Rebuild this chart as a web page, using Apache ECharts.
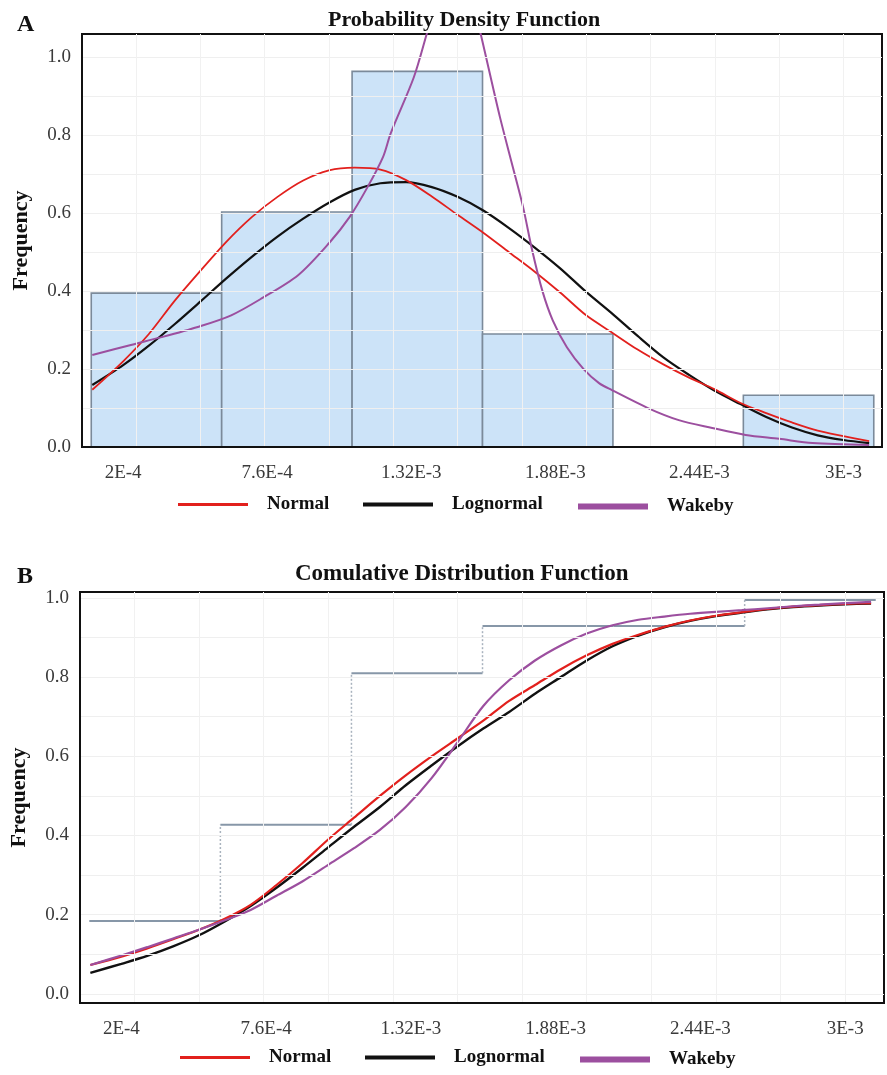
<!DOCTYPE html>
<html>
<head>
<meta charset="utf-8">
<title>PDF and CDF fits</title>
<script src="https://cdn.jsdelivr.net/npm/echarts@6/dist/echarts.min.js"></script>
<style>
  html, body { margin: 0; padding: 0; background: #ffffff; }
  #chart { width: 887px; height: 1075px; }
</style>
</head>
<body>
<div id="chart"></div>
<script>
// x values are stored in units of 1E-3
const X_TICKS = [0.2, 0.76, 1.32, 1.88, 2.44, 3.0];
const X_TICK_LABELS = ['2E-4', '7.6E-4', '1.32E-3', '1.88E-3', '2.44E-3', '3E-3'];
const Y_TICKS = [0, 0.2, 0.4, 0.6, 0.8, 1.0];
const Y_TICK_LABELS = ['0.0', '0.2', '0.4', '0.6', '0.8', '1.0'];
const Y_GRID = [0, 0.1, 0.2, 0.3, 0.4, 0.5, 0.6, 0.7, 0.8, 0.9, 1.0];

// histogram bins
const BIN_EDGES = [0.076, 0.583, 1.090, 1.597, 2.104, 2.611, 3.118];
const BIN_FREQ = [0.395, 0.603, 0.964, 0.29, 0, 0.133];
const CUM_FREQ = [0.184, 0.427, 0.81, 0.929, 0.929, 0.995];

// fitted densities
const PDF_X = [0.08, 0.2, 0.3, 0.4, 0.5, 0.6, 0.7, 0.8, 0.9, 1.0, 1.1, 1.2, 1.3, 1.4, 1.5, 1.6,
               1.7, 1.8, 1.9, 2.0, 2.1, 2.2, 2.3, 2.4, 2.5, 2.6, 2.7, 2.8, 2.9, 3.0, 3.1];
const NORMAL_PDF = [0.147, 0.22, 0.29, 0.375, 0.452, 0.526, 0.59, 0.642, 0.684, 0.71, 0.717, 0.712,
                    0.685, 0.643, 0.596, 0.55, 0.5, 0.45, 0.396, 0.338, 0.294, 0.25, 0.212, 0.178,
                    0.148, 0.113, 0.087, 0.063, 0.042, 0.028, 0.015];
const LOGNORMAL_PDF = [0.159, 0.21, 0.26, 0.315, 0.373, 0.432, 0.488, 0.54, 0.586, 0.627, 0.66, 0.677,
                       0.68, 0.667, 0.642, 0.607, 0.562, 0.512, 0.458, 0.398, 0.343, 0.285, 0.23, 0.185,
                       0.144, 0.11, 0.077, 0.05, 0.03, 0.018, 0.01];
const WAKEBY_PDF_X = [0.08, 0.23, 0.35, 0.49, 0.62, 0.74, 0.88, 1.0, 1.08, 1.15, 1.21, 1.24, 1.33, 1.38,
                      1.41, 1.45, 1.48, 1.52, 1.56, 1.59, 1.62, 1.665, 1.715, 1.755, 1.79, 1.83, 1.87,
                      1.925, 1.99, 2.05, 2.10, 2.24, 2.36, 2.49, 2.62, 2.75, 2.88, 3.10];
const WAKEBY_PDF = [0.236, 0.262, 0.282, 0.308, 0.338, 0.382, 0.441, 0.523, 0.59, 0.667, 0.744, 0.805,
                    0.949, 1.06, 1.13, 1.22, 1.28, 1.25, 1.14, 1.06, 0.974, 0.846, 0.718, 0.615, 0.505,
                    0.40, 0.325, 0.256, 0.2, 0.164, 0.146, 0.1, 0.069, 0.049, 0.031, 0.021, 0.01, 0.005];

// fitted cumulative distributions
const CDF_X = PDF_X;
const NORMAL_CDF = [0.073, 0.094, 0.115, 0.138, 0.162, 0.19, 0.225, 0.275, 0.33, 0.39, 0.445, 0.5,
                    0.552, 0.6, 0.645, 0.69, 0.74, 0.78, 0.82, 0.855, 0.884, 0.907, 0.927, 0.943,
                    0.955, 0.964, 0.972, 0.978, 0.982, 0.985, 0.987];
const LOGNORMAL_CDF = [0.053, 0.076, 0.096, 0.12, 0.148, 0.183, 0.222, 0.268, 0.318, 0.37, 0.422, 0.472,
                       0.527, 0.577, 0.625, 0.67, 0.712, 0.758, 0.8, 0.842, 0.878, 0.905, 0.926, 0.942,
                       0.954, 0.963, 0.971, 0.977, 0.981, 0.984, 0.986];
const WAKEBY_CDF = [0.073, 0.097, 0.118, 0.14, 0.162, 0.186, 0.212, 0.248, 0.284, 0.326, 0.368, 0.414,
                    0.472, 0.545, 0.635, 0.727, 0.792, 0.842, 0.88, 0.91, 0.931, 0.945, 0.953, 0.96,
                    0.965, 0.969, 0.974, 0.979, 0.983, 0.987, 0.99];

const COLORS = { Normal: '#e2201d', Lognormal: '#111111', Wakeby: '#9c4f9f' };

const SERIF = "'Liberation Serif', 'DejaVu Serif', serif";

const pairs = (xs, ys) => xs.map((x, i) => [x, ys[i]]);
const labelFor = (ticks, labels) => (v) => {
  let best = 0;
  ticks.forEach((t, i) => { if (Math.abs(t - v) < Math.abs(ticks[best] - v)) best = i; });
  return labels[best];
};

function xAxisCfg(gridIndex) {
  return {
    type: 'value', gridIndex, min: 0.04, max: 3.15, z: 10,
    axisLine: { show: true, onZero: false, lineStyle: { color: '#111', width: 2 } },
    axisTick: { show: false, customValues: [0.25, 0.5, 0.75, 1.0, 1.25, 1.5, 1.75, 2.0, 2.25, 2.5, 2.75, 3.0] },
    splitLine: { show: true, lineStyle: { color: '#f1f1f1', width: 1 } },
    axisLabel: {
      customValues: X_TICKS, margin: 17,
      formatter: labelFor(X_TICKS, X_TICK_LABELS),
      fontFamily: SERIF, fontSize: 19, color: '#3a3a3a'
    }
  };
}

function yAxisCfg(gridIndex, min, max) {
  return {
    type: 'value', gridIndex, min, max, z: 10,
    name: 'Frequency', nameLocation: 'middle', nameGap: 50, nameRotate: 90,
    nameTextStyle: { fontFamily: SERIF, fontWeight: 'bold', fontSize: 22, color: '#111' },
    axisLine: { show: true, onZero: false, lineStyle: { color: '#111', width: 2 } },
    axisTick: { show: false, customValues: Y_GRID },
    splitLine: { show: true, lineStyle: { color: '#efefef', width: 1 } },
    axisLabel: {
      customValues: Y_TICKS, margin: 11,
      formatter: labelFor(Y_TICKS, Y_TICK_LABELS),
      fontFamily: SERIF, fontSize: 19, color: '#3a3a3a'
    }
  };
}

// histogram bars: [left edge, right edge, frequency]
const histData = BIN_FREQ.map((f, i) => [BIN_EDGES[i], BIN_EDGES[i + 1], f]);
// empirical CDF steps: [left edge, right edge, level, previous level]
const stepData = CUM_FREQ.map((c, i) => [BIN_EDGES[i], BIN_EDGES[i + 1], c, i === 0 ? c : CUM_FREQ[i - 1]]);

function renderHist(params, api) {
  const h = api.value(2);
  if (!h) return { type: 'group', children: [] };
  const tl = api.coord([api.value(0), h]);
  const br = api.coord([api.value(1), 0]);
  return {
    type: 'rect',
    shape: { x: tl[0], y: tl[1], width: br[0] - tl[0], height: br[1] - tl[1] },
    style: { fill: '#cce3f8', stroke: '#7b8a9a', lineWidth: 1.6 }
  };
}

function renderStep(params, api) {
  const a = api.coord([api.value(0), api.value(2)]);
  const b = api.coord([api.value(1), api.value(2)]);
  const p = api.coord([api.value(0), api.value(3)]);
  const children = [{
    type: 'line',
    shape: { x1: a[0], y1: a[1], x2: b[0], y2: b[1] },
    style: { stroke: '#8797a8', lineWidth: 2 }
  }];
  if (Math.abs(p[1] - a[1]) > 0.5) {
    children.push({
      type: 'line',
      shape: { x1: p[0], y1: p[1], x2: a[0], y2: a[1] },
      style: { stroke: '#a9b3be', lineWidth: 1.5, lineDash: [2, 2] }
    });
  }
  return { type: 'group', children };
}

function curve(name, xs, ys, axisIndex, width) {
  return {
    name, type: 'line', xAxisIndex: axisIndex, yAxisIndex: axisIndex,
    data: pairs(xs, ys), showSymbol: false, smooth: 0.3, clip: true, z: 3,
    lineStyle: { color: COLORS[name], width },
    itemStyle: { color: COLORS[name] }
  };
}

const legendText = { fontFamily: SERIF, fontWeight: 'bold', fontSize: 19, color: '#111', padding: [0, 0, 0, 14] };
function legendItem(name, left, top, thickness) {
  return {
    data: [name], left, top, padding: 0, icon: 'rect',
    itemWidth: 70, itemHeight: thickness, textStyle: legendText, selectedMode: false
  };
}

const chart = echarts.init(document.getElementById('chart'), null, { renderer: 'canvas' });
chart.setOption({
  backgroundColor: '#ffffff',
  animation: false,
  title: [
    { text: 'A', left: 12, top: 8, textStyle: { fontFamily: SERIF, fontWeight: 'bold', fontSize: 24, color: '#111' } },
    { text: 'Probability Density Function', left: 323, top: 4, textStyle: { fontFamily: SERIF, fontWeight: 'bold', fontSize: 22, color: '#111' } },
    { text: 'B', left: 12, top: 560, textStyle: { fontFamily: SERIF, fontWeight: 'bold', fontSize: 24, color: '#111' } },
    { text: 'Comulative Distribution Function', left: 290, top: 558, textStyle: { fontFamily: SERIF, fontWeight: 'bold', fontSize: 23, color: '#111' } }
  ],
  legend: [
    legendItem('Normal', 178, 495, 3),
    legendItem('Lognormal', 363, 495, 4),
    legendItem('Wakeby', 578, 497, 6),
    legendItem('Normal', 180, 1048, 3),
    legendItem('Lognormal', 365, 1048, 4),
    legendItem('Wakeby', 580, 1050, 6)
  ],
  grid: [
    { left: 82, top: 34, width: 800, height: 413, show: true, borderColor: '#111', borderWidth: 2, backgroundColor: '#fff' },
    { left: 80, top: 592, width: 804, height: 411, show: true, borderColor: '#111', borderWidth: 2, backgroundColor: '#fff' }
  ],
  xAxis: [xAxisCfg(0), xAxisCfg(1)],
  yAxis: [yAxisCfg(0, 0, 1.06), yAxisCfg(1, -0.023, 1.015)],
  series: [
    {
      type: 'custom', xAxisIndex: 0, yAxisIndex: 0, renderItem: renderHist,
      data: histData, encode: { x: [0, 1], y: 2 }, z: 1, silent: true
    },
    curve('Lognormal', PDF_X, LOGNORMAL_PDF, 0, 2.2),
    curve('Normal', PDF_X, NORMAL_PDF, 0, 1.8),
    curve('Wakeby', WAKEBY_PDF_X, WAKEBY_PDF, 0, 2),
    {
      type: 'custom', xAxisIndex: 1, yAxisIndex: 1, renderItem: renderStep,
      data: stepData, encode: { x: [0, 1], y: 2 }, z: 1, silent: true
    },
    curve('Lognormal', CDF_X, LOGNORMAL_CDF, 1, 2.4),
    curve('Normal', CDF_X, NORMAL_CDF, 1, 2.2),
    curve('Wakeby', CDF_X, WAKEBY_CDF, 1, 2.2)
  ]
});
</script>
</body>
</html>
